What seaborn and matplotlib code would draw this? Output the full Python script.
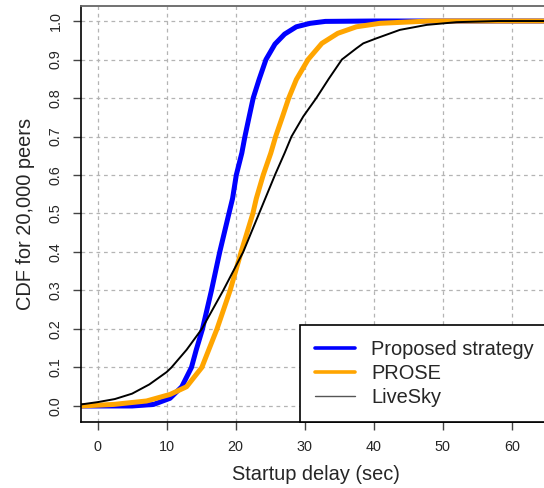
# CDF of startup delay for 20,000 peers, three strategies.

import seaborn as sns
import pandas as pd
import matplotlib.pyplot as plt
from matplotlib.lines import Line2D

sns.set_theme(style="white")
plt.rcParams['font.family'] = ['Liberation Sans', 'DejaVu Sans']

# Points (delay in sec, cumulative fraction).
proposed_x = [-2.4, 5, 8.1, 10.5, 12.2, 13.6, 14.3, 15.2, 16.5, 17.7, 18.9, 19.56, 20.1, 20.9, 21.35,
              21.97, 22.55, 23.4, 24.4, 25.7, 27.1, 28.8, 30.8, 33, 40, 65.5]
proposed_y = [0.0, 0.0, 0.004, 0.02, 0.05, 0.10, 0.146, 0.20, 0.30, 0.40, 0.49, 0.539, 0.60, 0.657, 0.70,
              0.752, 0.80, 0.848, 0.90, 0.94, 0.966, 0.985, 0.994, 0.999, 1.0, 1.0]

prose_x = [-2.4, 2.3, 7.1, 10.5, 12.9, 15.1, 17.3, 19.2, 20.8, 22.5, 23.0, 24.0, 25.1, 25.8, 26.8,
           27.7, 28.8, 30.5, 32.5, 34.8, 37.5, 40.9, 48, 65.5]
prose_y = [0.0, 0.004, 0.013, 0.03, 0.05, 0.10, 0.20, 0.30, 0.40, 0.50, 0.539, 0.60, 0.657, 0.70, 0.752,
           0.80, 0.848, 0.90, 0.942, 0.968, 0.985, 0.994, 1.0, 1.0]

livesky_x = [-2.4, 0, 2.5, 5, 7.5, 10, 10.7, 12.9, 15.1, 18.2, 21.1, 23.4, 25.7, 27.1, 28.1, 29.8, 31.7,
             33.5, 35.4, 37.5, 38.5, 40.4, 43.8, 47.7, 52, 58, 65.5]
livesky_y = [0.004, 0.01, 0.018, 0.032, 0.056, 0.088, 0.10, 0.146, 0.20, 0.30, 0.40, 0.50, 0.60, 0.657,
             0.70, 0.752, 0.80, 0.85, 0.90, 0.929, 0.942, 0.955, 0.977, 0.99, 0.997, 1.0, 1.0]

methods = ["Proposed strategy", "PROSE", "LiveSky"]
x_ticks = [0, 10, 20, 30, 40, 50, 60]
y_ticks = [0.0, 0.1, 0.2, 0.3, 0.4, 0.5, 0.6, 0.7, 0.8, 0.9, 1.0]

colors = {"Proposed strategy": "#0000ff", "PROSE": "#ffa500", "LiveSky": "#000000"}
widths = {"Proposed strategy": 3.6, "PROSE": 3.6, "LiveSky": 1.4}

df = pd.concat([
    pd.DataFrame({"delay": proposed_x, "cdf": proposed_y, "method": methods[0]}),
    pd.DataFrame({"delay": prose_x, "cdf": prose_y, "method": methods[1]}),
    pd.DataFrame({"delay": livesky_x, "cdf": livesky_y, "method": methods[2]}),
], ignore_index=True)

fig = plt.figure(figsize=(5.44, 4.88), dpi=100)
ax = fig.add_axes([81 / 544, 1 - 422 / 488, 469 / 544, 416 / 488])

# grid first so the curves sit on top
for xt in x_ticks:
    ax.axvline(xt, color="#b4b4b4", lw=0.9, ls=(0, (3, 3)), zorder=0)
for yt in y_ticks:
    ax.axhline(yt, color="#b4b4b4", lw=0.9, ls=(0, (3, 3)), zorder=0)

sns.lineplot(data=df, x="delay", y="cdf", hue="method", hue_order=methods,
             size="method", sizes=widths, size_order=methods, palette=colors,
             estimator=None, sort=False, legend=False, ax=ax)

ax.set_xlim(-2.4, 65.55)
ax.set_ylim(-0.0416, 1.039)
ax.set_xticks(x_ticks)
ax.set_yticks(y_ticks)
ax.set_yticklabels([f"{v:.1f}" for v in y_ticks], rotation=90, va="center")
ax.tick_params(axis="both", which="major", labelsize=10.4, length=6, width=1,
               color="#444444", direction="out", left=True, bottom=True, pad=7)
ax.set_xlabel("Startup delay (sec)", fontsize=14.4, labelpad=8)
ax.set_ylabel("CDF for 20,000 peers", fontsize=14.4, labelpad=10)

for side in ["left", "bottom"]:
    ax.spines[side].set_color("black")
    ax.spines[side].set_linewidth(1.2)
ax.spines["top"].set_color("#666666")
ax.spines["top"].set_linewidth(1.3)
ax.spines["right"].set_visible(False)

handles = [
    Line2D([], [], color="#0000ff", lw=2.6),
    Line2D([], [], color="#ffa500", lw=2.6),
    Line2D([], [], color="#555555", lw=1.0),
]
leg = ax.legend(handles, methods, loc="upper left",
                bbox_to_anchor=(300 / 544, 1 - 325 / 488), bbox_transform=fig.transFigure,
                borderaxespad=0, fontsize=14.4, frameon=True, fancybox=False,
                framealpha=1, edgecolor="black", borderpad=0.75, labelspacing=0.25,
                handlelength=2.0, handletextpad=0.8)
leg.get_frame().set_linewidth(1.2)

plt.savefig("out.png", dpi=100)
